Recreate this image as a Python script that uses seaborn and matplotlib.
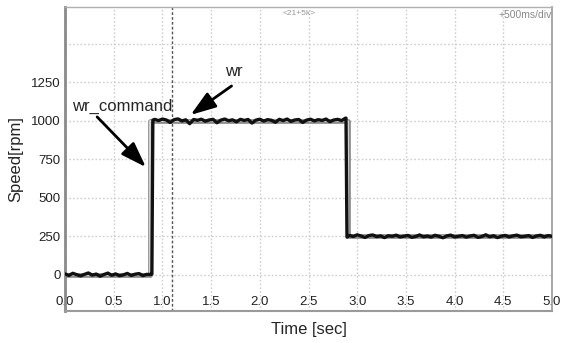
import matplotlib
matplotlib.use("Agg")
import matplotlib.pyplot as plt
import seaborn as sns
import pandas as pd

# ---- data ----
wr_time_low = [0.00, 0.04, 0.08, 0.12, 0.16, 0.20, 0.24, 0.28, 0.32, 0.36, 0.40, 0.44,
               0.48, 0.52, 0.56, 0.60, 0.64, 0.68, 0.72, 0.76, 0.80, 0.84, 0.88]
wr_low = [6, -4, 10, 1, -7, 3, 12, -2, 5, -9, 2, 11, -3, 6, -6, 0, 9, -4, 4, 8, -5, 3, 2]

wr_time_rise = [0.892, 0.902]
wr_rise = [5, 1005]

wr_time_high = [0.92, 0.96, 1.00, 1.04, 1.08, 1.12, 1.16, 1.20, 1.24, 1.28,
                1.32, 1.36, 1.40, 1.44, 1.48, 1.52, 1.56, 1.60, 1.64, 1.68,
                1.72, 1.76, 1.80, 1.84, 1.88, 1.92, 1.96, 2.00, 2.04, 2.08,
                2.12, 2.16, 2.20, 2.24, 2.28, 2.32, 2.36, 2.40, 2.44, 2.48,
                2.52, 2.56, 2.60, 2.64, 2.68, 2.72, 2.76, 2.80, 2.84, 2.88]
wr_high = [1010, 1002, 1012, 1006, 990, 1008, 1013, 1000, 1007, 982,
           1009, 1004, 1011, 998, 1006, 1010, 988, 1005, 1012, 1001,
           1007, 994, 1010, 1003, 1009, 986, 1005, 1011, 999, 1008,
           1004, 991, 1010, 1002, 1012, 997, 1006, 1009, 990, 1005,
           1011, 1000, 1008, 1003, 1012, 995, 1006, 1010, 1002, 1018]

wr_time_fall = [2.885, 2.895]
wr_fall = [1018, 245]

wr_time_mid = [2.92, 2.96, 3.00, 3.04, 3.08, 3.12, 3.16, 3.20, 3.24, 3.28,
               3.32, 3.36, 3.40, 3.44, 3.48, 3.52, 3.56, 3.60, 3.64, 3.68,
               3.72, 3.76, 3.80, 3.84, 3.88, 3.92, 3.96, 4.00, 4.04, 4.08,
               4.12, 4.16, 4.20, 4.24, 4.28, 4.32, 4.36, 4.40, 4.44, 4.48,
               4.52, 4.56, 4.60, 4.64, 4.68, 4.72, 4.76, 4.80, 4.84, 4.88,
               4.92, 4.96, 5.00]
wr_mid = [256, 249, 260, 252, 243, 255, 259, 248, 253, 242,
          254, 250, 258, 246, 251, 256, 244, 249, 259, 247,
          252, 245, 257, 250, 241, 253, 258, 246, 250, 255,
          245, 252, 257, 243, 249, 260, 247, 254, 242, 251,
          256, 246, 253, 258, 247, 250, 255, 243, 252, 257,
          246, 255, 250]

cmd_time = [0.0, 0.872, 0.872, 2.91, 2.91, 5.0]
cmd_value = [0, 0, 1000, 1000, 250, 250]

x_ticks = [0.0, 0.5, 1.0, 1.5, 2.0, 2.5, 3.0, 3.5, 4.0, 4.5, 5.0]
x_tick_labels = ["0.0", "0.5", "1.0", "1.5", "2.0", "2.5", "3.0", "3.5", "4.0", "4.5", "5.0"]
y_ticks = [0, 250, 500, 750, 1000, 1250]
y_grid = [0, 250, 500, 750, 1000, 1250, 1500]
cursor_time = 1.10

wr_df = pd.DataFrame({
    "t": wr_time_low + wr_time_rise + wr_time_high + wr_time_fall + wr_time_mid,
    "v": wr_low + wr_rise + wr_high + wr_fall + wr_mid,
})
cmd_df = pd.DataFrame({"t": cmd_time, "v": cmd_value})

# ---- figure ----
sns.set_style("white")
plt.rcParams["font.family"] = ["Liberation Sans", "DejaVu Sans"]

fig = plt.figure(figsize=(5.65, 3.43), dpi=100)
ax = fig.add_axes([65 / 565, 1 - 311 / 343, (552 - 65) / 565, (311 - 7) / 343])

# grid
for g in y_grid:
    ax.axhline(g, color="#cfcfcf", lw=1, ls=(0, (1.2, 1.5)), zorder=0)
for g in x_ticks:
    ax.axvline(g, color="#cfcfcf", lw=1, ls=(0, (1.2, 1.5)), zorder=0)
ax.axvline(cursor_time, color="#555555", lw=1, ls=(0, (2, 1.5)), zorder=1)

# command (hollow grey trace)
sns.lineplot(data=cmd_df, x="t", y="v", sort=False, estimator=None, ax=ax,
             color="#8c8c8c", lw=3.4, zorder=2)
sns.lineplot(data=cmd_df, x="t", y="v", sort=False, estimator=None, ax=ax,
             color="#dedede", lw=1.2, zorder=3)
# measured speed
sns.lineplot(data=wr_df, x="t", y="v", sort=False, estimator=None, ax=ax,
             color="#111111", lw=2.4, zorder=4)

ax.set_xlim(0.0, 5.0)
ax.set_ylim(-235, 1740)
ax.set_xticks(x_ticks)
ax.set_xticklabels(x_tick_labels)
ax.set_yticks(y_ticks)
ax.tick_params(axis="x", length=0, pad=-11, labelsize=9.5, colors="#222222")
ax.tick_params(axis="y", length=0, pad=3, labelsize=9.5, colors="#222222")

ax.set_xlabel("Time [sec]", fontsize=12)
ax.xaxis.set_label_coords(0.5, -0.035)
ax.set_ylabel("Speed[rpm]", fontsize=12, labelpad=6)

ax.spines["left"].set_color("#8a8a8a")
ax.spines["left"].set_linewidth(2)
ax.spines["bottom"].set_color("#9a9a9a")
ax.spines["bottom"].set_linewidth(1.5)
ax.spines["right"].set_color("#9a9a9a")
ax.spines["right"].set_linewidth(1.2)
ax.spines["top"].set_color("#b0b0b0")
ax.spines["top"].set_linewidth(1)

# scope header texts
ax.text(0.48, 0.99, "<21+5k>", transform=ax.transAxes, ha="center", va="top",
        fontsize=6, color="#9a9a9a")
ax.text(1.0, 0.99, "+500ms/div", transform=ax.transAxes, ha="right", va="top",
        fontsize=7.5, color="#8a8a8a")

# annotations
arrow = dict(arrowstyle="-|>,head_length=1.1,head_width=0.38", mutation_scale=14,
             lw=2, color="black", shrinkA=0, shrinkB=0)
ax.text(0.07, 1091, "wr_command", fontsize=12, ha="left", va="center")
ax.annotate("", xy=(0.83, 700), xytext=(0.33, 1026), arrowprops=arrow)
ax.text(1.735, 1318, "wr", fontsize=12, ha="center", va="center")
ax.annotate("", xy=(1.29, 1039), xytext=(1.71, 1227), arrowprops=arrow)

fig.savefig("out.png", dpi=100)
